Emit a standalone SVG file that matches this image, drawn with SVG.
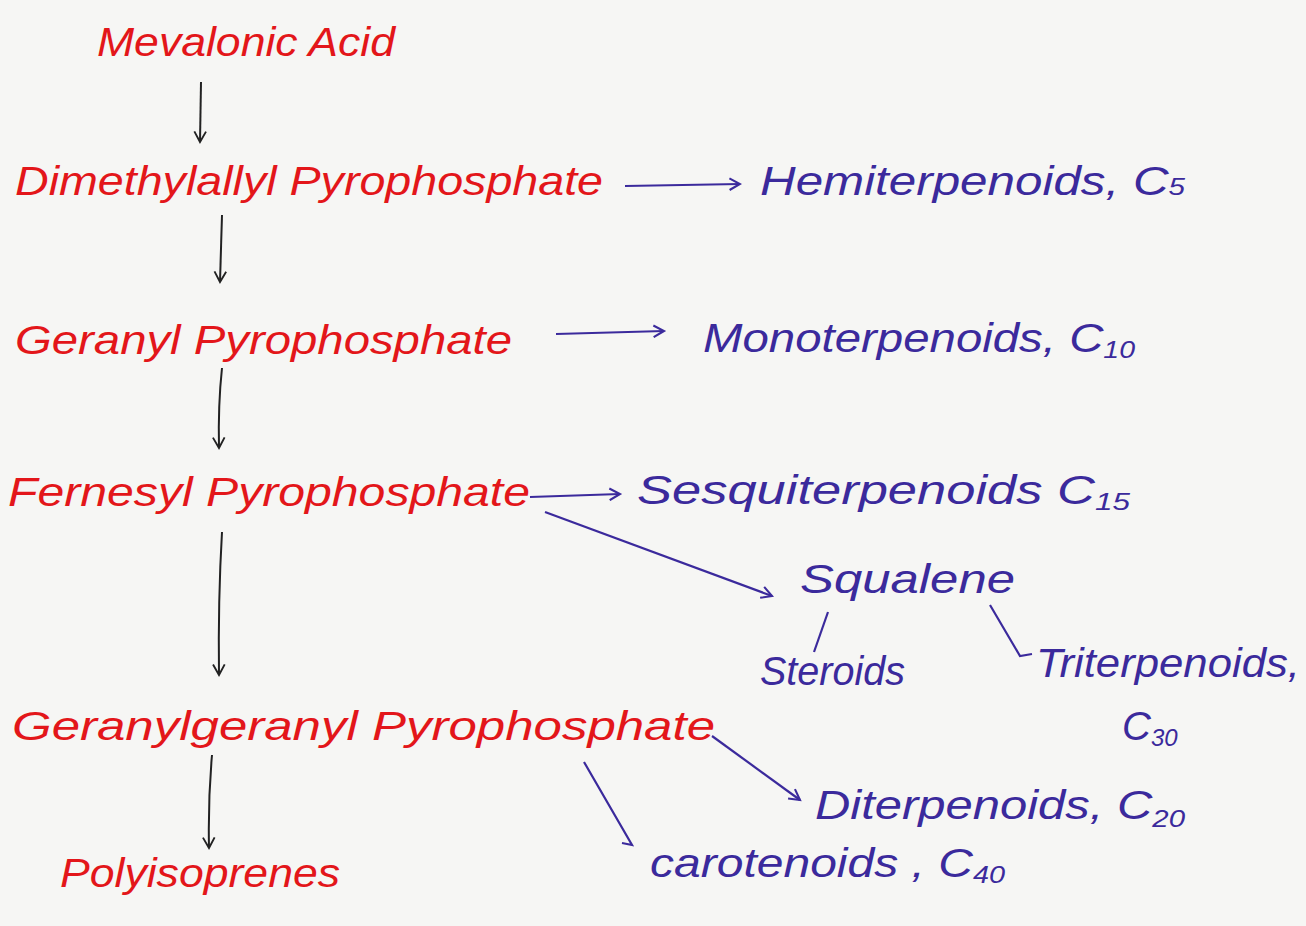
<svg xmlns="http://www.w3.org/2000/svg" width="1306" height="926" viewBox="0 0 1306 926">
<defs>
<marker id="hkb" viewBox="0 0 12 12" refX="10" refY="6" markerWidth="14" markerHeight="14" markerUnits="userSpaceOnUse" orient="auto">
<path d="M1,1 L10,6 L1,11" fill="none" stroke="#3b2a9c" stroke-width="1.8"/>
</marker>
<marker id="hkk" viewBox="0 0 12 12" refX="10" refY="6" markerWidth="14" markerHeight="14" markerUnits="userSpaceOnUse" orient="auto">
<path d="M1,1 L10,6 L1,11" fill="none" stroke="#222" stroke-width="1.6"/>
</marker>
</defs>
<style>
.r{fill:#e3161a;font-family:"Liberation Sans",Arial,sans-serif;font-size:40px;font-style:italic}
.b{fill:#3b2a9c;font-family:"Liberation Sans",Arial,sans-serif;font-size:40px;font-style:italic}
.s{font-size:24px}
.k{fill:none;stroke:#222;stroke-width:2}
.bl{fill:none;stroke:#3b2a9c;stroke-width:2.2}
</style>
<rect width="1306" height="926" fill="#f6f6f4"/>
<g id="connectors">
<path class="k" d="M201,82 L200,142" marker-end="url(#hkk)"/>
<path class="k" d="M222,215 L220,282" marker-end="url(#hkk)"/>
<path class="k" d="M222,368 Q218,405 219,448" marker-end="url(#hkk)"/>
<path class="k" d="M222,532 Q218,600 219,675" marker-end="url(#hkk)"/>
<path class="k" d="M212,755 Q208,800 209,848" marker-end="url(#hkk)"/>
<path class="bl" d="M625,186 L740,184" marker-end="url(#hkb)"/>
<path class="bl" d="M556,334 L664,331" marker-end="url(#hkb)"/>
<path class="bl" d="M530,497 L620,494" marker-end="url(#hkb)"/>
<path class="bl" d="M545,512 L772,596" marker-end="url(#hkb)"/>
<path class="bl" d="M828,612 L814,652"/>
<path class="bl" d="M990,605 L1020,656 L1032,654"/>
<path class="bl" d="M712,736 L800,800" marker-end="url(#hkb)"/>
<path class="bl" d="M584,762 L632,845 L622,843"/>
</g>
<g id="n-mevalonic"><text class="r" x="97" y="56" textLength="298" lengthAdjust="spacingAndGlyphs">Mevalonic Acid</text></g>
<g id="n-dmapp"><text class="r" x="15" y="195" textLength="588" lengthAdjust="spacingAndGlyphs">Dimethylallyl Pyrophosphate</text></g>
<g id="n-hemi"><text class="b" x="760" y="195" textLength="425" lengthAdjust="spacingAndGlyphs">Hemiterpenoids, C<tspan class="s">5</tspan></text></g>
<g id="n-gpp"><text class="r" x="15" y="354" textLength="497" lengthAdjust="spacingAndGlyphs">Geranyl Pyrophosphate</text></g>
<g id="n-mono"><text class="b" x="703" y="352" textLength="432" lengthAdjust="spacingAndGlyphs">Monoterpenoids, C<tspan class="s" dy="6">10</tspan></text></g>
<g id="n-fpp"><text class="r" x="8" y="506" textLength="522" lengthAdjust="spacingAndGlyphs">Fernesyl Pyrophosphate</text></g>
<g id="n-sesqui"><text class="b" x="637" y="504" textLength="493" lengthAdjust="spacingAndGlyphs">Sesquiterpenoids C<tspan class="s" dy="6">15</tspan></text></g>
<g id="n-squalene"><text class="b" x="800" y="593" textLength="215" lengthAdjust="spacingAndGlyphs">Squalene</text></g>
<g id="n-steroids"><text class="b" x="760" y="685" textLength="145" lengthAdjust="spacingAndGlyphs">Steroids</text></g>
<g id="n-triterp"><text class="b" x="1036" y="677" textLength="264" lengthAdjust="spacingAndGlyphs">Triterpenoids,</text><text class="b" x="1122" y="740">C<tspan class="s" dy="6">30</tspan></text></g>
<g id="n-ggpp"><text class="r" x="12" y="740" textLength="703" lengthAdjust="spacingAndGlyphs">Geranylgeranyl Pyrophosphate</text></g>
<g id="n-diterp"><text class="b" x="815" y="819" textLength="370" lengthAdjust="spacingAndGlyphs">Diterpenoids, C<tspan class="s" dy="8">20</tspan></text></g>
<g id="n-carot"><text class="b" x="650" y="877" textLength="355" lengthAdjust="spacingAndGlyphs">carotenoids , C<tspan class="s" dy="6">40</tspan></text></g>
<g id="n-polyiso"><text class="r" x="60" y="887" textLength="280" lengthAdjust="spacingAndGlyphs">Polyisoprenes</text></g>
</svg>
